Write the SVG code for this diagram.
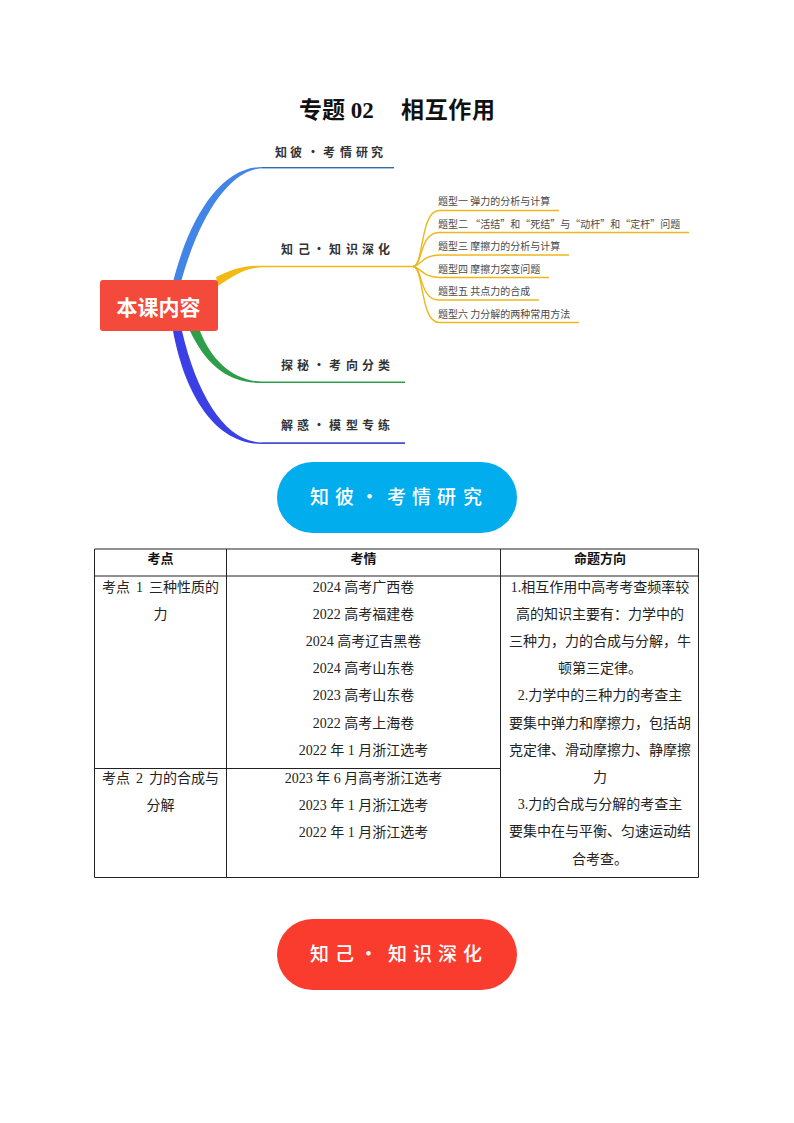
<svg xmlns="http://www.w3.org/2000/svg" width="794" height="1123" viewBox="0 0 794 1123">
<style>
text{font-family:"Liberation Serif","Noto Sans CJK SC",serif;fill:#111}
.cjk{font-family:"Noto Sans CJK SC",sans-serif}
.title{font-size:23px;font-weight:700;font-family:"Liberation Serif","Noto Sans CJK SC",serif}
.hand{font-family:"Noto Sans CJK SC",sans-serif;font-size:12px;font-weight:700;fill:#333}
.sub{font-family:"Noto Sans CJK SC",sans-serif;font-size:10px;fill:#4a4a4a}
.pill{font-family:"Noto Sans CJK SC",sans-serif;font-size:19px;font-weight:500;fill:#fff}
.t{font-size:14px;fill:#222;text-anchor:middle}
.w{word-spacing:2.5px}
.th{font-size:13px;font-weight:700;fill:#111;text-anchor:middle}
.grid{stroke:#222;stroke-width:1;fill:none}
.sb{stroke:#edb81c;stroke-width:1.4;fill:none}
</style>
<text class="title" x="299" y="118">专题 02</text>
<text class="title" x="401" y="118" textLength="94">相互作用</text>
<g id="connectors">
<path d="M173 282C190 215 222 167 262 167H394V168.300H262C228 170 198 220 181 282Z" fill="#4285e6"/>
<path d="M262 167H394V168.300H262Z" fill="#2f6db0"/>
<path d="M216 277C235 268 245 265.700 262 265.700H413V267.300H262C245 268 235 275 218 286Z" fill="#f3b914"/>
<path d="M190 331C205 362 225 383 262 383H405V381.600H262C235 381 212 362 200 331Z" fill="#2f9e4b"/>
<path d="M173 331C185 395 215 444 262 444H405V442.500H262C225 442 197 395 182 331Z" fill="#3a3fe6"/>
<path d="M262 442.500H405V444H262Z" fill="#4750c4"/>
<g id="sub-connectors">
<path class="sb" d="M413 266.500C424 266 420 211 439 210.500H559"/>
<path class="sb" d="M413 266.500C423 266 419 233 439 232.500H689"/>
<path class="sb" d="M413 266.500C422 265 422 255.500 439 255H569"/>
<path class="sb" d="M413 266.500C422 268 422 277 439 277.500H549"/>
<path class="sb" d="M413 266.500C423 267 419 300 439 300H539"/>
<path class="sb" d="M413 266.500C424 267 420 322 439 322.500H579"/>
</g>
</g>
<g id="root"><rect x="100" y="280" width="118" height="51" rx="3" fill="#f44a3c"/>
<text class="cjk" x="158.500" y="314.500" font-size="21" font-weight="700" text-anchor="middle" style="fill:#fff">本课内容</text></g>
<g id="branch-1"><text class="hand" x="275 290 302 307 319 323 340 356 371" y="157">知彼 · 考情研究</text></g>
<g id="branch-2"><text class="hand" x="281 298 310 313 325 329 346 362 378" y="254">知己 · 知识深化</text></g>
<g id="branch-3"><text class="hand" x="281 297 309 313 325 329 346 362 378" y="370">探秘 · 考向分类</text></g>
<g id="branch-4"><text class="hand" x="281 297 309 313 325 329 346 362 378" y="430">解惑 · 模型专练</text></g>
<g id="topic-1"><text class="sub" x="438" y="205">题型一 弹力的分析与计算</text></g>
<g id="topic-2"><text class="sub" x="438" y="228">题型二 “活结”和“死结”与“动杆”和“定杆”问题</text></g>
<g id="topic-3"><text class="sub" x="438" y="250">题型三 摩擦力的分析与计算</text></g>
<g id="topic-4"><text class="sub" x="438" y="273">题型四 摩擦力突变问题</text></g>
<g id="topic-5"><text class="sub" x="438" y="295">题型五 共点力的合成</text></g>
<g id="topic-6"><text class="sub" x="438" y="318">题型六 力分解的两种常用方法</text></g>
<g id="pill-1"><rect x="277" y="462" width="240" height="71" rx="35.500" fill="#02adee"/><text class="pill" x="310 335 355 360 380 387 412 437 463" y="504">知彼 · 考情研究</text></g>
<g id="table">
<path class="grid" d="M94.500 549H698.500V877.500H94.500ZM226.500 549V877.500M500.500 549V877.500M94.500 576H698.500M94.500 768.500H500.500"/>
<text class="th" x="160.500" y="563">考点</text><text class="th" x="363.500" y="563">考情</text><text class="th" x="600" y="563">命题方向</text>
<text class="t w" x="160.500" y="592">考点 1 三种性质的</text><text class="t" x="160.500" y="619">力</text>
<text class="t w" x="160.500" y="783">考点 2 力的合成与</text><text class="t" x="160.500" y="810">分解</text>
<text class="t" x="363.500" y="592">2024 高考广西卷</text>
<text class="t" x="363.500" y="619">2022 高考福建卷</text>
<text class="t" x="363.500" y="646">2024 高考辽吉黑卷</text>
<text class="t" x="363.500" y="673">2024 高考山东卷</text>
<text class="t" x="363.500" y="700">2023 高考山东卷</text>
<text class="t" x="363.500" y="728">2022 高考上海卷</text>
<text class="t" x="363.500" y="755">2022 年 1 月浙江选考</text>
<text class="t" x="363.500" y="783">2023 年 6 月高考浙江选考</text>
<text class="t" x="363.500" y="810">2023 年 1 月浙江选考</text>
<text class="t" x="363.500" y="837">2022 年 1 月浙江选考</text>
<text class="t" x="600" y="592">1.相互作用中高考考查频率较</text>
<text class="t" x="600" y="619">高的知识主要有：力学中的</text>
<text class="t" x="600" y="646">三种力，力的合成与分解，牛</text>
<text class="t" x="600" y="673">顿第三定律。</text>
<text class="t" x="600" y="700">2.力学中的三种力的考查主</text>
<text class="t" x="600" y="728">要集中弹力和摩擦力，包括胡</text>
<text class="t" x="600" y="755">克定律、滑动摩擦力、静摩擦</text>
<text class="t" x="600" y="782">力</text>
<text class="t" x="600" y="809">3.力的合成与分解的考查主</text>
<text class="t" x="600" y="836">要集中在与平衡、匀速运动结</text>
<text class="t" x="600" y="864">合考查。</text>
</g>
<g id="pill-2"><rect x="277" y="919" width="240" height="71" rx="35.500" fill="#f93c2e"/><text class="pill" x="310 335 354 359 380 388 413 438 463" y="961">知己 · 知识深化</text></g>
</svg>
